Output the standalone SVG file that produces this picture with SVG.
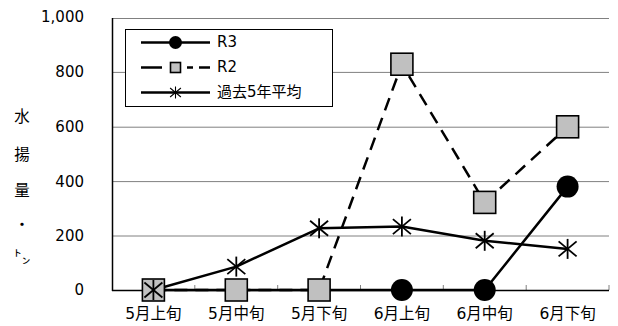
<svg xmlns="http://www.w3.org/2000/svg" width="618" height="326" viewBox="0 0 618 326">
<style>
text{font-family:"DejaVu Sans","Noto Sans CJK JP",sans-serif;fill:#000}
.yl{font-size:15px;text-anchor:end;dominant-baseline:central}
.xl{font-size:15.5px;text-anchor:middle}
.vl{font-size:15.5px;text-anchor:middle;dominant-baseline:central}
.lg{font-size:15px;dominant-baseline:central}
.grid{stroke:#808080;stroke-width:1}
.s{fill:none;stroke:#000;stroke-width:2.5;stroke-linejoin:round}
.dash{stroke-dasharray:13 8}
.sq{fill:#c0c0c0;stroke:#000;stroke-width:1.6}
.st{stroke:#000;stroke-width:1.8}
</style>
<defs>
<g id="star"><line class="st" x1="0" y1="-10" x2="0" y2="10"/><line class="st" x1="-9" y1="-7.5" x2="9" y2="7.5"/><line class="st" x1="-9" y1="7.5" x2="9" y2="-7.5"/></g>
<rect id="sqm" class="sq" x="-11" y="-11" width="22" height="22"/>
<circle id="cm" r="11" fill="#000"/>
</defs>
<rect width="618" height="326" fill="#fff"/>
<g id="axes">
<line class="grid" x1="112" y1="18.5" x2="609" y2="18.5"/>
<line class="grid" x1="112" y1="72.4" x2="609" y2="72.4"/>
<line class="grid" x1="112" y1="127.2" x2="609" y2="127.2"/>
<line class="grid" x1="112" y1="181.6" x2="609" y2="181.6"/>
<line class="grid" x1="112" y1="236" x2="609" y2="236"/>
<g class="grid">
<line x1="194.8" y1="285" x2="194.8" y2="290"/>
<line x1="277.7" y1="285" x2="277.7" y2="290"/>
<line x1="360.5" y1="285" x2="360.5" y2="290"/>
<line x1="443.3" y1="285" x2="443.3" y2="290"/>
<line x1="526.2" y1="285" x2="526.2" y2="290"/>
<line x1="609" y1="285" x2="609" y2="290"/>
</g>
<line x1="112.5" y1="18" x2="112.5" y2="291" stroke="#000" stroke-width="1.5"/>
<line x1="112" y1="290.5" x2="609" y2="290.5" stroke="#000" stroke-width="1.5"/>
<text class="yl" x="84" y="17">1,000</text>
<text class="yl" x="84" y="72.4">800</text>
<text class="yl" x="84" y="127.2">600</text>
<text class="yl" x="84" y="181.6">400</text>
<text class="yl" x="84" y="236">200</text>
<text class="yl" x="84" y="290">0</text>
<text class="xl" x="153.4" y="319">5月上旬</text>
<text class="xl" x="236.3" y="319">5月中旬</text>
<text class="xl" x="319.1" y="319">5月下旬</text>
<text class="xl" x="401.9" y="319">6月上旬</text>
<text class="xl" x="484.7" y="319">6月中旬</text>
<text class="xl" x="567.6" y="319">6月下旬</text>
<text class="vl" x="22" y="117">水</text>
<text class="vl" x="22" y="155">揚</text>
<text class="vl" x="22" y="191">量</text>
<text class="vl" x="22" y="225">・</text>
<text class="vl" x="22" y="257" style="font-size:17px">㌧</text>
</g>
<g id="connectors">
<polyline id="line-R3" class="s" points="153.4,290 236.3,290 319.1,290 401.9,290 484.7,290 567.6,186.6"/>
<polyline id="line-R2" class="s dash" points="153.4,290 236.3,290 319.1,290 401.9,64.2 484.7,202.4 567.6,126.8"/>
<polyline id="line-avg" class="s" points="153.4,290 236.3,266.6 319.1,228.3 401.9,226.6 484.7,240.8 567.6,248.9"/>
</g>
<g id="series-R3">
<use href="#cm" x="153.4" y="290"/><use href="#cm" x="236.3" y="290"/><use href="#cm" x="319.1" y="290"/><use href="#cm" x="401.9" y="290"/><use href="#cm" x="484.7" y="290"/><use href="#cm" x="567.6" y="186.6"/>
</g>
<g id="series-R2">
<use href="#sqm" x="153.4" y="290"/><use href="#sqm" x="236.3" y="290"/><use href="#sqm" x="319.1" y="290"/><use href="#sqm" x="401.9" y="64.2"/><use href="#sqm" x="484.7" y="202.4"/><use href="#sqm" x="567.6" y="126.8"/>
</g>
<g id="series-avg">
<use href="#star" x="153.4" y="290"/><use href="#star" x="236.3" y="266.6"/><use href="#star" x="319.1" y="228.3"/><use href="#star" x="401.9" y="226.6"/><use href="#star" x="484.7" y="240.8"/><use href="#star" x="567.6" y="248.9"/>
</g>
<g id="legend">
<rect x="125.5" y="29.5" width="207" height="77" fill="#fff" stroke="#000" stroke-width="1"/>
<line class="s" x1="141" y1="42.5" x2="210" y2="42.5"/>
<circle cx="175.5" cy="42.5" r="6.5" fill="#000"/>
<text class="lg" x="217" y="42">R3</text>
<line class="s" x1="141" y1="67.5" x2="162" y2="67.5"/>
<line class="s" x1="187" y1="67.5" x2="193" y2="67.5"/>
<line class="s" x1="199" y1="67.5" x2="210" y2="67.5"/>
<rect class="sq" x="170.5" y="62.5" width="10" height="10"/>
<text class="lg" x="217" y="67">R2</text>
<line class="s" x1="141" y1="92.5" x2="210" y2="92.5"/>
<g transform="translate(175.5 92.5) scale(0.6)"><use href="#star"/></g>
<text class="lg" x="217" y="92">過去5年平均</text>
</g>
</svg>
